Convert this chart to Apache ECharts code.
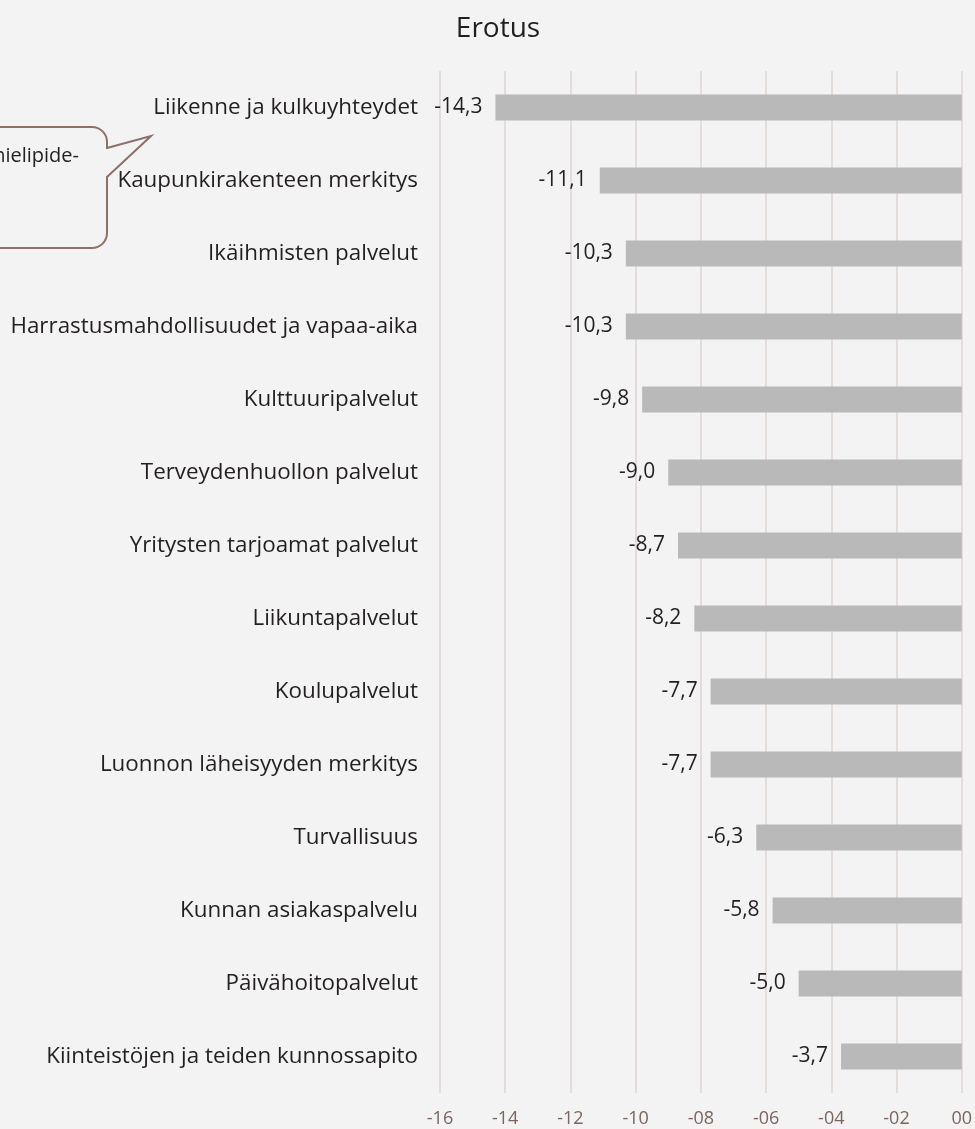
<!doctype html>
<html lang="fi">
<head>
<meta charset="utf-8">
<script src="https://cdn.jsdelivr.net/npm/echarts@6/dist/echarts.min.js"></script>
<style>
  html, body { margin: 0; padding: 0; background: #f3f3f3; }
  #main { width: 975px; height: 1129px; }
</style>
</head>
<body>
<div id="main"></div>
<script>
  // data
  var categories = [
    'Liikenne ja kulkuyhteydet',
    'Kaupunkirakenteen merkitys',
    'Ikäihmisten palvelut',
    'Harrastusmahdollisuudet ja vapaa-aika',
    'Kulttuuripalvelut',
    'Terveydenhuollon palvelut',
    'Yritysten tarjoamat palvelut',
    'Liikuntapalvelut',
    'Koulupalvelut',
    'Luonnon läheisyyden merkitys',
    'Turvallisuus',
    'Kunnan asiakaspalvelu',
    'Päivähoitopalvelut',
    'Kiinteistöjen ja teiden kunnossapito'
  ];
  var erotus = [-14.3, -11.1, -10.3, -10.3, -9.8, -9.0, -8.7, -8.2, -7.7, -7.7, -6.3, -5.8, -5.0, -3.7];
  var xTicks = { min: -16, max: 0, step: 2 };

  var font = '"Open Sans", "Noto Sans", sans-serif';

  function padTick(v) {
    var s = String(Math.abs(v));
    if (s.length < 2) s = '0' + s;
    return (v < 0 ? '-' : '') + s;
  }

  var chart = echarts.init(document.getElementById('main'));
  chart.setOption({
    backgroundColor: '#f3f3f3',
    animation: false,
    title: {
      text: 'Erotus',
      left: 493,
      top: 10,
      textAlign: 'center',
      textStyle: { fontFamily: font, fontSize: 28, fontWeight: 'normal', color: '#231f20' }
    },
    grid: { left: 440, right: 12, top: 71, bottom: 36, containLabel: false },
    xAxis: {
      type: 'value',
      min: xTicks.min,
      max: xTicks.max,
      interval: xTicks.step,
      axisLine: { show: false },
      axisTick: { show: false },
      splitLine: { show: true, lineStyle: { color: '#e4dcd9', width: 2 } },
      axisLabel: {
        margin: 17,
        fontFamily: font,
        fontSize: 18,
        color: '#7b655d',
        formatter: padTick
      }
    },
    yAxis: {
      type: 'category',
      data: categories,
      inverse: true,
      axisLine: { show: false },
      axisTick: { show: false },
      axisLabel: {
        margin: 22,
        fontFamily: font,
        fontSize: 22.4,
        color: '#231f20'
      }
    },
    series: [{
      type: 'bar',
      data: erotus,
      barWidth: 26,
      itemStyle: { color: '#b9b9b9' },
      label: {
        show: true,
        position: 'left',
        distance: 13,
        fontFamily: font,
        fontSize: 21,
        color: '#231f20',
        formatter: function (p) { return p.value.toFixed(1).replace('.', ','); }
      }
    }],
    graphic: [
      {
        type: 'rect',
        shape: { x: -30, y: 127, width: 137, height: 121, r: 15 },
        style: { fill: 'none', stroke: '#8d7068', lineWidth: 2 }
      },
      {
        type: 'rect',
        shape: { x: 104, y: 149, width: 6, height: 27 },
        style: { fill: '#f3f3f3', stroke: null }
      },
      {
        type: 'polyline',
        shape: { points: [[107, 148], [151, 136], [107, 177]] },
        style: { fill: null, stroke: '#8d7068', lineWidth: 2 }
      },
      {
        type: 'text',
        x: 79,
        y: 156,
        style: {
          text: 'mielipide-',
          align: 'right',
          verticalAlign: 'middle',
          fontFamily: font,
          fontSize: 20,
          fill: '#231f20'
        }
      }
    ]
  });
</script>
</body>
</html>
